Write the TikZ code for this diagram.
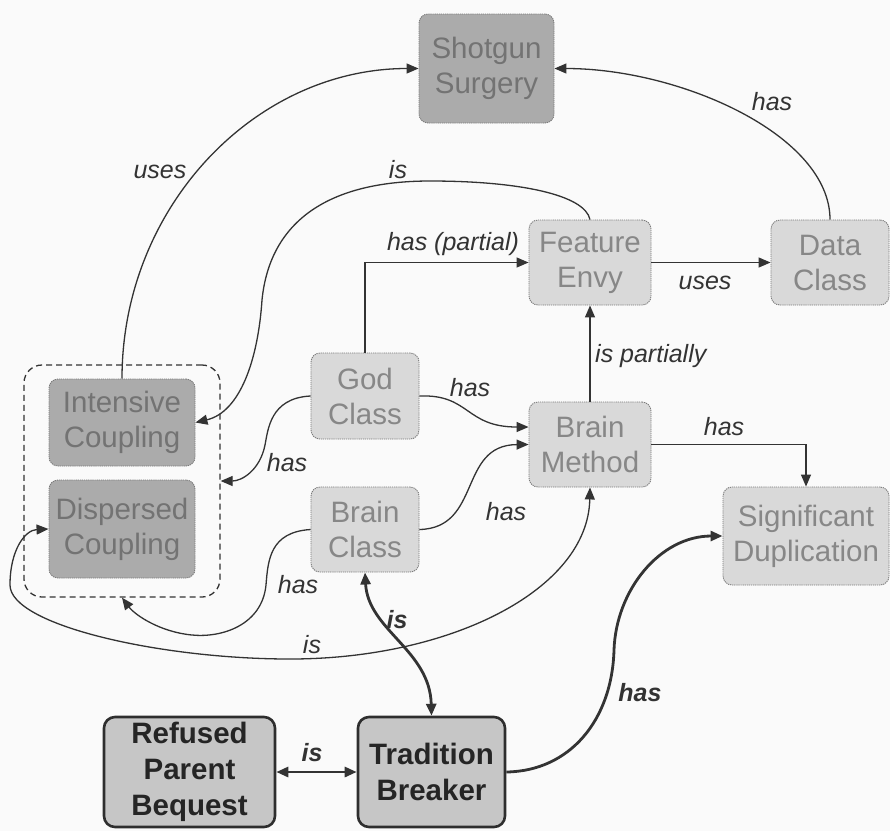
\documentclass[tikz,border=0pt]{standalone}
\usepackage{fontspec}
\setmainfont{Liberation Sans}
\usetikzlibrary{arrows.meta}
\definecolor{bgcol}{HTML}{FAFAFA}
\definecolor{boxline}{HTML}{7A7A7A}
\definecolor{softfill}{HTML}{D9D9D9}
\definecolor{softtext}{HTML}{878787}
\definecolor{deepfill}{HTML}{ABABAB}
\definecolor{deeptext}{HTML}{737373}
\definecolor{strongfill}{HTML}{C6C6C6}
\definecolor{strongline}{HTML}{2E2E2E}
\definecolor{strongtext}{HTML}{252525}
\definecolor{linkcol}{HTML}{333333}
\definecolor{labelcol}{HTML}{333333}
\begin{document}
\begin{tikzpicture}[x=1pt,y=-1pt,
  smell/.style={rounded corners=9pt, draw=boxline, line width=0.9pt,
    dash pattern=on 1.2pt off 0.9pt, align=center, inner sep=0pt,
    font=\fontsize{29.5}{35}\selectfont},
  soft/.style={smell, fill=softfill, text=softtext},
  deep/.style={smell, fill=deepfill, text=deeptext},
  strong/.style={rounded corners=11pt, draw=strongline, line width=2.6pt,
    fill=strongfill, text=strongtext, align=center, inner sep=0pt,
    font=\bfseries\fontsize{29.5}{36}\selectfont},
  group/.style={rounded corners=18pt, draw=linkcol, line width=1.3pt,
    dash pattern=on 6pt off 4pt, inner sep=0pt},
  link/.style={draw=linkcol, line width=1.3pt,
    -{Triangle[length=12pt,width=10pt]}},
  bothways/.style={draw=linkcol, line width=1.3pt,
    {Triangle[length=12pt,width=10pt]}-{Triangle[length=12pt,width=10pt]}},
  heavy/.style={line width=2.8pt},
  lbl/.style={font=\itshape\fontsize{25}{28}\selectfont, text=labelcol, inner sep=1pt},
  blbl/.style={font=\bfseries\itshape\fontsize{25}{28}\selectfont, text=labelcol, inner sep=1pt}]

% page background
\fill[bgcol] (0,0) rectangle (890,831);
\useasboundingbox (0,0) rectangle (890,831);

% smells
\node[deep, minimum width=135pt, minimum height=109pt] (ss) at (486.5,68.5) {Shotgun\\Surgery};
\node[soft, minimum width=122pt, minimum height=85pt] (fe) at (590,262.5) {Feature\\Envy};
\node[soft, minimum width=118pt, minimum height=85pt] (dat) at (830,262.5) {Data\\Class};
\node[soft, minimum width=108pt, minimum height=86pt] (gc) at (365,396) {God\\Class};
\node[soft, minimum width=108pt, minimum height=85pt] (bc) at (365,529.5) {Brain\\Class};
\node[soft, minimum width=122pt, minimum height=85pt] (bm) at (590,444.5) {Brain\\Method};
\node[soft, minimum width=166pt, minimum height=98pt] (sd) at (806,536) {Significant\\Duplication};

% coupling group
\node[group, minimum width=196pt, minimum height=232pt] (grp) at (122,481) {};
\node[deep, minimum width=146pt, minimum height=87pt] (ic) at (122,422.5) {Intensive\\Coupling};
\node[deep, minimum width=146pt, minimum height=98pt] (dc) at (122,529) {Dispersed\\Coupling};

% hierarchy smells
\node[strong, minimum width=171pt, minimum height=110pt] (rpb) at (189.5,772) {Refused\\Parent\\Bequest};
\node[strong, minimum width=147pt, minimum height=110pt] (tb) at (431.5,772) {Tradition\\Breaker};

% relations
\draw[link] (ic.north) .. controls (122,207) and (255,68.5) .. (ss.west);
\node[lbl] (l1) at (160,172) {uses};

\draw[link] (dat.north) .. controls (830,135) and (680,68.5) .. (ss.east);
\node[lbl] (l2) at (772,102) {has};

\draw[link] (fe.north) .. controls (585,195) and (520,181) .. (430,181)
  .. controls (330,181) and (270,220) .. (262,300)
  .. controls (258,360) and (240,412) .. (ic.east);
\node[lbl] (l3) at (398,170) {is};

\draw[link] (gc.north) |- (fe.west);
\node[lbl] (l4) at (453,244) {has (partial)};

\draw[link] (fe.east) -- (dat.west);
\node[lbl] (l5) at (705,283) {uses};

\draw[link] (bm.north) -- (fe.south);
\node[lbl, anchor=west] (l6) at (594,356) {is partially};

\draw[link] (gc.east) .. controls (470,394) and (465,427) .. ([yshift=17.5pt]bm.west);
\node[lbl] (l7) at (470,388) {has};

\draw[link] (bc.east) .. controls (482,528) and (458,445) .. (bm.west);
\node[lbl] (l8) at (506,512) {has};

\draw[link] (bm.east) -| (sd.north);
\node[lbl] (l9) at (724,427) {has};

\draw[link] (gc.west) .. controls (270,398) and (268,430) .. (265,445)
  .. controls (260,470) and (242,481) .. (grp.east);
\node[lbl] (l10) at (287,463) {has};

\draw[link] (bc.west) .. controls (270,532) and (268,560) .. (266,585)
  .. controls (262,625) and (222,638) .. (192,635)
  .. controls (160,632) and (135,615) .. (grp.south);
\node[lbl] (l11) at (298,585) {has};

\draw[bothways] (bm.south) .. controls (588,590) and (450,659) .. (290,659)
  .. controls (160,659) and (10,625) .. (10,585)
  .. controls (10,550) and (25,530) .. (dc.west);
\node[lbl] (l12) at (312,645) {is};

\draw[bothways, heavy] (bc.south) .. controls (368,630) and (430,650) .. (tb.north);
\node[blbl] (l13) at (397,620) {is};

\draw[bothways, heavy] (rpb.east) -- (tb.west);
\node[blbl] (l14) at (312,753) {is};

\draw[link, heavy] (tb.east) .. controls (570,771) and (612,720) .. (614,650)
  .. controls (616,590) and (660,536) .. (sd.west);
\node[blbl] (l15) at (640,693) {has};

\end{tikzpicture}
\end{document}
